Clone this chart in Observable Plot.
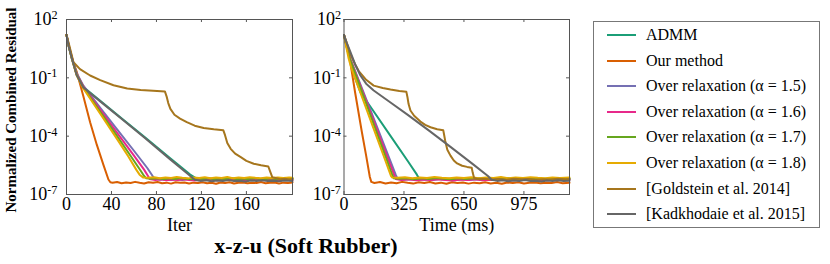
<!DOCTYPE html>
<html>
<head>
<meta charset="utf-8">
<script src="https://cdn.jsdelivr.net/npm/d3@7"></script>
<script src="https://cdn.jsdelivr.net/npm/@observablehq/plot@0.6"></script>
<style>
  html, body { margin: 0; padding: 0; background: #fff; }
  #fig { position: relative; width: 830px; height: 264px; font-family: "Liberation Serif", "Times New Roman", serif; color: #000; overflow: hidden; }
  #ylabel { position: absolute; left: 11px; top: 110px; transform: translate(-50%, -50%) rotate(-90deg); font-weight: bold; font-size: 15px; white-space: nowrap; }
  #title { position: absolute; left: 306px; top: 246px; transform: translate(-50%, -50%); font-weight: bold; font-size: 22px; white-space: nowrap; line-height: 1; }
  #legend { position: absolute; left: 593px; top: 21px; width: 227px; height: 207px; border: 1px solid #777; box-sizing: border-box; }
  .item { position: absolute; left: 13px; height: 20px; display: flex; align-items: center; font-size: 16px; white-space: nowrap; }
  .item svg { margin-right: 10px; }
  #left, #right { position: absolute; top: 0; }
  #left { left: 0; }
  #right { left: 290px; }
</style>
</head>
<body>
<div id="fig">
  <div id="left"></div>
  <div id="right"></div>
  <div id="ylabel">Normalized Combined Residual</div>
  <div id="legend"></div>
  <div id="title">x-z-u (Soft Rubber)</div>
</div>
<script>
// ---------- data (y values stored as log10 exponents) ----------
const seriesNames = [
  "ADMM", "Our method",
  "Over relaxation (α = 1.5)", "Over relaxation (α = 1.6)",
  "Over relaxation (α = 1.7)", "Over relaxation (α = 1.8)",
  "[Goldstein et al. 2014]", "[Kadkhodaie et al. 2015]"
];
const seriesColors = ["#1b9e77", "#d95f02", "#7570b3", "#e7298a", "#66a61e", "#e6ab02", "#a6761d", "#666666"];

const yTicks = [1e2, 1e-1, 1e-4, 1e-7];
const iterTicks = [0, 40, 80, 120, 160];
const timeTicks = [0, 325, 650, 975];
const iterDomain = [0, 201];
const timeDomain = [0, 1222];

// --- residual vs iteration ---
const iterADMM = [[0,1.21],[2,0.62],[4.7,0.02],[9,-0.82],[15,-1.47],[30,-2.18],[50,-3.13],[70,-4.07],[92,-5.12],[110,-5.97],[116,-6.2],
  [121,-6.22],[126,-6.17],[131,-6.21],[136,-6.19],[141,-6.23],[146,-6.18],[151,-6.2],[156,-6.16],[161,-6.22],[166,-6.19],[171,-6.21],[176,-6.17],[181,-6.2],[186,-6.23],[191,-6.18],[196,-6.21],[201,-6.19]];
const iterOurs = [[0,1.21],[1.5,0.8],[3,0.45],[6,-0.2],[9.2,-0.71],[15,-1.95],[21,-3.28],[27,-4.45],[33,-5.5],[37.3,-6.23],[39,-6.37],
  [41,-6.4],[45,-6.36],[49,-6.42],[53,-6.38],[57,-6.41],[61,-6.35],[65,-6.4],[69,-6.43],[73,-6.37],[77,-6.4],[81,-6.36],[85,-6.42],[89,-6.39],[93,-6.44],[97,-6.37],[101,-6.4],[105,-6.38],[109,-6.43],[113,-6.39],[117,-6.41],[121,-6.37],[125,-6.42],[129,-6.4],[133,-6.45],[137,-6.38],[141,-6.41],[145,-6.37],[149,-6.43],[153,-6.4],[157,-6.38],[161,-6.42],[165,-6.39],[169,-6.41],[173,-6.36],[177,-6.42],[181,-6.4],[185,-6.38],[189,-6.43],[193,-6.39],[197,-6.41],[201,-6.38]];
const iterOR15 = [[0,1.21],[2,0.65],[4.7,0.06],[9,-0.75],[15,-1.4],[30,-2.55],[45,-3.65],[60,-4.75],[72,-5.65],[76,-6.0],[78,-6.18],
  [83,-6.24],[88,-6.21],[93,-6.26],[98,-6.22],[103,-6.25],[108,-6.2],[113,-6.24],[118,-6.27],[123,-6.22],[128,-6.25],[133,-6.21],[138,-6.26],[143,-6.23],[148,-6.25],[153,-6.21],[158,-6.26],[163,-6.23],[168,-6.25],[173,-6.21],[178,-6.24],[183,-6.26],[188,-6.22],[193,-6.25],[198,-6.23],[201,-6.24]];
const iterOR16 = [[0,1.21],[2,0.64],[4.7,0.04],[9,-0.8],[15,-1.45],[30,-2.65],[45,-3.83],[60,-5.0],[69,-5.72],[72.5,-6.05],[74,-6.2],
  [79,-6.25],[84,-6.22],[89,-6.27],[94,-6.23],[99,-6.26],[104,-6.22],[109,-6.25],[114,-6.28],[119,-6.23],[124,-6.26],[129,-6.22],[134,-6.27],[139,-6.24],[144,-6.26],[149,-6.22],[154,-6.27],[159,-6.24],[164,-6.26],[169,-6.22],[174,-6.25],[179,-6.27],[184,-6.23],[189,-6.26],[194,-6.24],[201,-6.25]];
const iterOR17 = [[0,1.21],[2,0.63],[4.7,0.02],[9,-0.83],[15,-1.5],[30,-2.75],[45,-4.0],[58,-5.1],[66,-5.78],[69,-6.05],[71,-6.17],
  [76,-6.19],[81,-6.16],[86,-6.21],[91,-6.17],[96,-6.2],[101,-6.15],[106,-6.19],[111,-6.22],[116,-6.17],[121,-6.2],[126,-6.16],[131,-6.21],[136,-6.18],[141,-6.2],[146,-6.15],[151,-6.21],[156,-6.18],[161,-6.2],[166,-6.16],[171,-6.19],[176,-6.21],[181,-6.17],[186,-6.2],[191,-6.18],[196,-6.2],[201,-6.17]];
const iterOR18 = [[0,1.21],[2,0.62],[4.7,0.0],[9,-0.87],[15,-1.55],[30,-2.85],[45,-4.15],[55,-5.05],[62,-5.72],[65,-5.98],[68,-6.12],
  [73,-6.14],[78,-6.11],[83,-6.16],[88,-6.12],[93,-6.15],[98,-6.1],[103,-6.14],[108,-6.17],[113,-6.12],[118,-6.15],[123,-6.11],[128,-6.16],[133,-6.13],[138,-6.15],[143,-6.1],[148,-6.16],[153,-6.13],[158,-6.15],[163,-6.11],[168,-6.14],[173,-6.16],[178,-6.12],[183,-6.15],[188,-6.13],[193,-6.15],[198,-6.12],[201,-6.14]];
const iterGoldstein = [[0,1.21],[3,0.55],[6.2,-0.2],[12,-0.55],[21,-0.88],[30,-1.12],[41.8,-1.38],[54,-1.55],[66,-1.63],[77,-1.67],[87.5,-1.7],[89,-1.95],[90.5,-2.3],[92.4,-2.6],[96,-2.9],[101,-3.1],[107,-3.28],[114,-3.46],[122,-3.58],[131,-3.65],[139.5,-3.7],[141,-3.95],[143,-4.35],[146,-4.65],[150,-4.9],[155,-5.08],[160,-5.27],[166.5,-5.42],[173,-5.5],[179.5,-5.56],[181,-5.8],[183,-6.11],[188.7,-6.19],[190,-6.22],
  [194,-6.19],[198,-6.23],[201,-6.2]];
const iterKadkhodaie = [[0,1.21],[2,0.6],[4.7,0.0],[9,-0.85],[15,-1.5],[30,-2.21],[50,-3.16],[70,-4.11],[92,-5.18],[108,-5.95],[114,-6.24],
  [119,-6.3],[124,-6.27],[129,-6.32],[134,-6.28],[139,-6.31],[144,-6.26],[149,-6.3],[154,-6.29],[159,-6.33],[164,-6.28],[169,-6.3],[174,-6.27],[179,-6.31],[184,-6.29],[189,-6.32],[194,-6.28],[201,-6.3]];

// --- residual vs time (ms) ---
const timeADMM = [[0,1.2],[15,0.6],[35,-0.19],[60,-1.0],[89,-1.74],[150,-2.58],[250,-3.96],[350,-5.34],[395,-5.98],[405,-6.15],[412,-6.2],
  [450,-6.22],[490,-6.17],[530,-6.21],[570,-6.19],[610,-6.23],[650,-6.18],[690,-6.2],[730,-6.16],[770,-6.22],[810,-6.19],[850,-6.21],[890,-6.17],[930,-6.2],[970,-6.23],[1010,-6.18],[1050,-6.21],[1090,-6.19],[1130,-6.22],[1170,-6.18],[1222,-6.2]];
const timeOurs = [[0,1.2],[10,0.9],[24,0.45],[40,-0.55],[60,-1.74],[97,-3.8],[120,-5.0],[140,-6.1],[148,-6.35],
  [165,-6.41],[195,-6.36],[225,-6.43],[255,-6.38],[285,-6.42],[315,-6.35],[345,-6.4],[375,-6.44],[405,-6.37],[435,-6.41],[465,-6.36],[495,-6.43],[525,-6.39],[555,-6.45],[585,-6.37],[615,-6.41],[645,-6.38],[675,-6.44],[705,-6.39],[735,-6.42],[765,-6.37],[795,-6.43],[825,-6.4],[855,-6.45],[885,-6.38],[915,-6.41],[945,-6.37],[975,-6.43],[1005,-6.4],[1035,-6.38],[1065,-6.42],[1095,-6.39],[1125,-6.41],[1155,-6.36],[1185,-6.42],[1222,-6.39]];
const timeOR15 = [[0,1.2],[15,0.6],[30,0.05],[44,-0.25],[100,-1.6],[180,-3.55],[250,-5.25],[280,-5.98],[290,-6.18],
  [320,-6.24],[360,-6.21],[400,-6.26],[440,-6.22],[480,-6.25],[520,-6.2],[560,-6.24],[600,-6.27],[640,-6.22],[680,-6.25],[720,-6.21],[760,-6.26],[800,-6.23],[840,-6.25],[880,-6.21],[920,-6.26],[960,-6.23],[1000,-6.25],[1040,-6.21],[1080,-6.24],[1120,-6.26],[1160,-6.22],[1200,-6.25],[1222,-6.23]];
const timeOR16 = [[0,1.2],[15,0.58],[30,0.02],[44,-0.3],[100,-1.7],[180,-3.7],[240,-5.2],[270,-5.95],[280,-6.2],
  [310,-6.25],[350,-6.22],[390,-6.27],[430,-6.23],[470,-6.26],[510,-6.22],[550,-6.25],[590,-6.28],[630,-6.23],[670,-6.26],[710,-6.22],[750,-6.27],[790,-6.24],[830,-6.26],[870,-6.22],[910,-6.27],[950,-6.24],[990,-6.26],[1030,-6.22],[1070,-6.25],[1110,-6.27],[1150,-6.23],[1190,-6.26],[1222,-6.24]];
const timeOR17 = [[0,1.2],[15,0.57],[30,0.0],[44,-0.35],[100,-1.8],[180,-3.88],[235,-5.3],[260,-5.96],[270,-6.17],
  [300,-6.19],[340,-6.16],[380,-6.21],[420,-6.17],[460,-6.2],[500,-6.15],[540,-6.19],[580,-6.22],[620,-6.17],[660,-6.2],[700,-6.16],[740,-6.21],[780,-6.18],[820,-6.2],[860,-6.15],[900,-6.21],[940,-6.18],[980,-6.2],[1020,-6.16],[1060,-6.19],[1100,-6.21],[1140,-6.17],[1180,-6.2],[1222,-6.18]];
const timeOR18 = [[0,1.2],[12,0.6],[25,0.0],[40,-0.5],[100,-2.05],[160,-3.6],[220,-5.15],[245,-5.8],[255,-6.05],[262,-6.13],
  [290,-6.14],[330,-6.11],[370,-6.16],[410,-6.12],[450,-6.15],[490,-6.1],[530,-6.14],[570,-6.17],[610,-6.12],[650,-6.15],[690,-6.11],[730,-6.16],[770,-6.13],[810,-6.15],[850,-6.1],[890,-6.16],[930,-6.13],[970,-6.15],[1010,-6.11],[1050,-6.14],[1090,-6.16],[1130,-6.12],[1170,-6.15],[1222,-6.13]];
const timeGoldstein = [[0,1.2],[20,0.65],[35,0.2],[60,-0.3],[80,-0.65],[120,-1.1],[161,-1.4],[210,-1.52],[252,-1.6],[300,-1.68],[338,-1.72],[344,-2.0],[350,-2.35],[360,-2.68],[380,-2.95],[414,-3.25],[440,-3.42],[469,-3.54],[505,-3.64],[538,-3.7],[542,-3.9],[548,-4.22],[560,-4.7],[577,-5.0],[595,-5.25],[613,-5.4],[640,-5.52],[667,-5.58],[692,-5.62],[698,-5.9],[705,-6.15],[725,-6.2],
  [760,-6.19],[800,-6.23],[840,-6.2],[880,-6.24],[920,-6.19],[960,-6.22],[1000,-6.2],[1040,-6.24],[1080,-6.21],[1120,-6.23],[1160,-6.19],[1200,-6.22],[1222,-6.2]];
const timeKadkhodaie = [[0,1.2],[15,0.8],[35,0.32],[60,-0.3],[89,-0.88],[120,-1.3],[161,-1.65],[252,-2.27],[342,-2.88],[459,-3.7],[577,-4.55],[700,-5.45],[780,-6.05],[800,-6.24],
  [830,-6.3],[860,-6.27],[890,-6.32],[920,-6.28],[950,-6.31],[980,-6.26],[1010,-6.3],[1040,-6.29],[1070,-6.33],[1100,-6.28],[1130,-6.3],[1160,-6.27],[1190,-6.31],[1222,-6.29]];

const iterSeries = [iterADMM, iterOurs, iterOR15, iterOR16, iterOR17, iterOR18, iterGoldstein, iterKadkhodaie];
const timeSeries = [timeADMM, timeOurs, timeOR15, timeOR16, timeOR17, timeOR18, timeGoldstein, timeKadkhodaie];

// ---------- drawing ----------
const frameColor = "#555";
function makePlot({series, xDomain, xTicks, xLabel, width, marginLeft, marginRight, yPad}) {
  const height = 234, marginTop = 19, marginBottom = 40;
  const fw = width - marginLeft - marginRight;
  const fh = height - marginTop - marginBottom;
  const tick = 3;
  const svg = Plot.plot({
    width, height, marginLeft, marginRight, marginTop, marginBottom,
    style: {fontFamily: "Liberation Serif, Times New Roman, serif", fontSize: "18px", color: "#000", background: "transparent", overflow: "visible"},
    x: {domain: xDomain},
    y: {type: "log", domain: [1e-7, 1e2]},
    marks: [
      ...series.map((s, i) => Plot.line(s, {x: d => d[0], y: d => Math.pow(10, d[1]), stroke: seriesColors[i], strokeWidth: 2})),
      Plot.frame({stroke: frameColor, strokeWidth: 1}),
      Plot.tickY(yTicks, {y: d => d, insetRight: fw - tick, stroke: frameColor}),
      Plot.tickY(yTicks, {y: d => d, insetLeft: fw - tick, stroke: frameColor}),
      Plot.tickX(xTicks, {x: d => d, insetBottom: fh - tick, stroke: frameColor}),
      Plot.tickX(xTicks, {x: d => d, insetTop: fh - tick, stroke: frameColor}),
      Plot.axisX({ticks: xTicks, tickSize: 0, tickPadding: 3, fontSize: 18, label: xLabel, labelAnchor: "center", labelArrow: "none", labelOffset: 36}),
      Plot.axisY({ticks: yTicks, tickSize: 0, tickPadding: yPad, fontSize: 18, label: null,
        tickFormat: d => "10|" + Math.round(Math.log10(d))})
    ]
  });
  const ns = "http://www.w3.org/2000/svg";
  svg.querySelectorAll('g[aria-label="y-axis tick label"] text').forEach(t => {
    const parts = t.textContent.split("|");
    if (parts.length !== 2) return;
    t.textContent = "";
    const a = document.createElementNS(ns, "tspan");
    a.textContent = parts[0];
    const b = document.createElementNS(ns, "tspan");
    b.textContent = parts[1];
    b.setAttribute("dy", "-0.5em");
    b.setAttribute("font-size", "0.68em");
    t.append(a, b);
  });
  return svg;
}

document.getElementById("left").append(makePlot({
  series: iterSeries, xDomain: iterDomain, xTicks: iterTicks, xLabel: "Iter",
  width: 300, marginLeft: 66, marginRight: 8, yPad: 9
}));
document.getElementById("right").append(makePlot({
  series: timeSeries, xDomain: timeDomain, xTicks: timeTicks, xLabel: "Time (ms)",
  width: 289, marginLeft: 53.5, marginRight: 10, yPad: 3
}));

// legend
const legend = document.getElementById("legend");
seriesNames.forEach((name, i) => {
  const item = document.createElement("div");
  item.className = "item";
  item.style.top = (13 + i * 25.6 - 10) + "px";
  item.innerHTML = `<svg width="29" height="4"><line x1="0" x2="29" y1="2" y2="2" stroke="${seriesColors[i]}" stroke-width="2"/></svg><span>${name}</span>`;
  legend.append(item);
});
</script>
</body>
</html>
